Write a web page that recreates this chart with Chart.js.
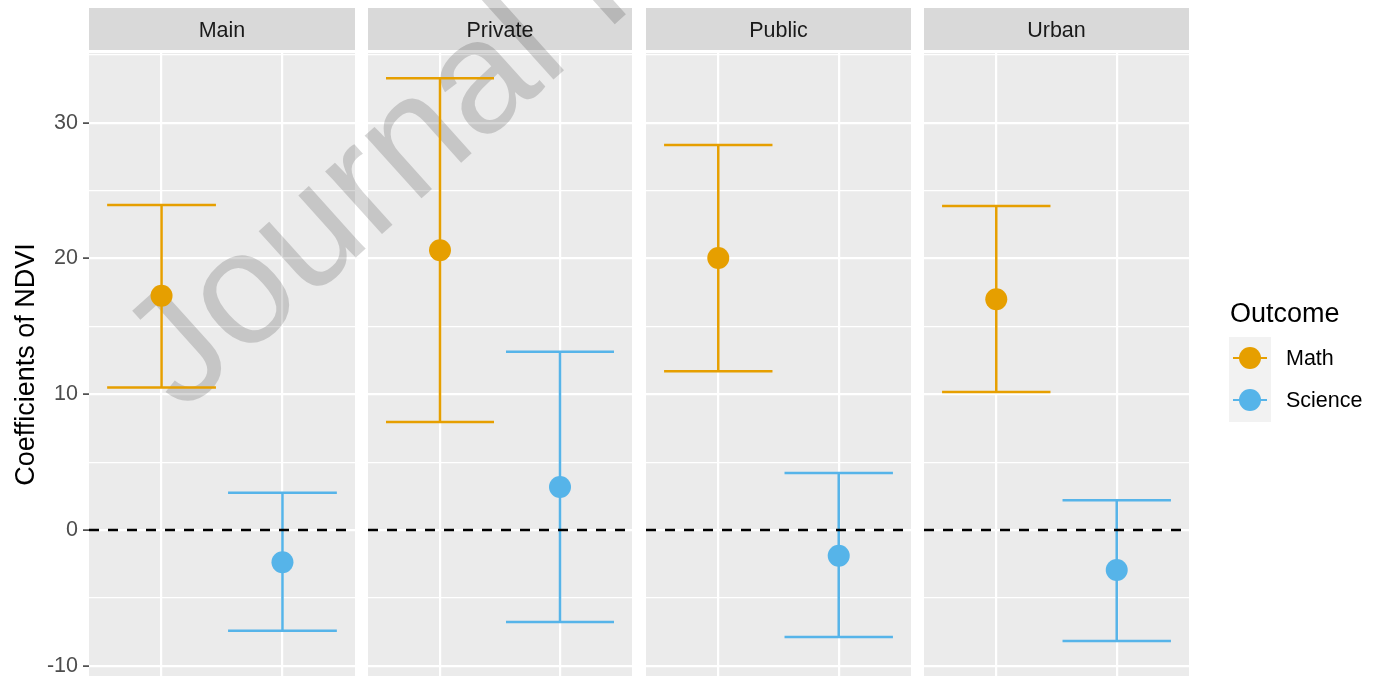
<!DOCTYPE html>
<html>
<head>
<meta charset="utf-8">
<script src="https://cdn.jsdelivr.net/npm/chart.js@4.4.0/dist/chart.umd.min.js"></script>
<style>
  body { margin: 0; background: #fff; width: 1379px; height: 676px; overflow: hidden; position: relative;
         font-family: "Liberation Sans", Arial, sans-serif; }
  canvas { position: absolute; top: 53px; z-index: 2; }
  .strip { position: absolute; top: 8px; height: 39px; padding-top: 3px; line-height: 39px; background: #d9d9d9;
           color: #1a1a1a; font-size: 21.5px; text-align: center; z-index: 0; }
  .legend-title { position: absolute; left: 1230px; top: 300px; font-size: 27px; line-height: 27px; color: #000; }
  .legend-keys { position: absolute; left: 1229px; top: 337px; width: 42px; height: 85px; background: #f2f2f2; }
  .key-line { position: absolute; left: 4px; width: 34px; height: 2.5px; }
  .key-dot { position: absolute; left: 10px; width: 22px; height: 22px; border-radius: 50%; }
  .legend-label { position: absolute; left: 1286px; font-size: 21.5px; line-height: 21.5px; color: #000; }
  .watermark { position: absolute; left: 182px; top: 279px; font-size: 160px; line-height: 160px; white-space: nowrap;
               color: rgb(215, 215, 215); mix-blend-mode: multiply; transform-origin: 0 135px;
               transform: rotate(-42deg); pointer-events: none; z-index: 1; }
</style>
</head>
<body>
<div id="strips"></div>
<div class="watermark">Journal Pre-proof</div>
<div id="panels"></div>

<div class="legend-title">Outcome</div>
<div class="legend-keys" id="keys"></div>
<div class="legend-label" style="top:348px">Math</div>
<div class="legend-label" style="top:390px">Science</div>

<script>
// facets and values
const facets = ["Main", "Private", "Public", "Urban"];
const outcomes = ["Math", "Science"];

const mathEst  = [17.26, 20.6, 20.03, 17.0];
const mathLow  = [10.5, 7.95, 11.7, 10.16];
const mathHigh = [23.94, 33.27, 28.36, 23.86];

const sciEst  = [-2.38, 3.17, -1.9, -2.95];
const sciLow  = [-7.41, -6.78, -7.88, -8.18];
const sciHigh = [2.75, 13.13, 4.2, 2.2];

const yTicks = [-10, 0, 10, 20, 30];

const colors = ["#E69F00", "#56B4E9"];

// layout of the facet panels
const panelLeft = [89, 368, 646, 924];
const panelWidth = [266, 264, 265, 265];
const panelTop = 53;
const axisWidth = 89;
const capHalf = 0.45;

// same geometry as the .watermark div (baseline origin)
const wm = { text: "Journal Pre-proof", x: 182, y: 414, angle: -42, size: 160 };

Chart.defaults.font.family = '"Liberation Sans", Arial, sans-serif';

const panelBg = {
  id: "panelBg",
  beforeDraw(chart) {
    const { ctx, chartArea: a } = chart;
    ctx.save();
    ctx.fillStyle = "#ebebeb";
    ctx.fillRect(a.left, a.top, a.width, a.height);
    ctx.restore();
  },
};

// watermark sits above the grid but under the marks
const watermark = {
  id: "watermark",
  beforeDatasetsDraw(chart) {
    const { ctx, chartArea: a } = chart;
    const ox = Number(chart.canvas.dataset.left);
    ctx.save();
    ctx.beginPath();
    ctx.rect(a.left, a.top, a.width, a.height);
    ctx.clip();
    ctx.globalCompositeOperation = "multiply";
    ctx.fillStyle = "rgb(215,215,215)";
    ctx.font = wm.size + 'px "Liberation Sans", Arial, sans-serif';
    ctx.textBaseline = "alphabetic";
    ctx.translate(wm.x - ox, wm.y - panelTop);
    ctx.rotate((wm.angle * Math.PI) / 180);
    ctx.fillText(wm.text, 0, 0);
    ctx.restore();
  },
};

const errorBars = {
  id: "errorBars",
  beforeDatasetsDraw(chart) {
    const { ctx, scales: { x, y } } = chart;
    chart.data.datasets.forEach((ds) => {
      if (!ds.errLow) return;
      ds.data.forEach((p, j) => {
        const cx = x.getPixelForValue(p.x);
        const x0 = x.getPixelForValue(p.x - capHalf);
        const x1 = x.getPixelForValue(p.x + capHalf);
        const yl = y.getPixelForValue(ds.errLow[j]);
        const yh = y.getPixelForValue(ds.errHigh[j]);
        ctx.save();
        ctx.strokeStyle = ds.backgroundColor;
        ctx.lineWidth = 2.5;
        ctx.beginPath();
        ctx.moveTo(cx, yl); ctx.lineTo(cx, yh);
        ctx.moveTo(x0, yl); ctx.lineTo(x1, yl);
        ctx.moveTo(x0, yh); ctx.lineTo(x1, yh);
        ctx.stroke();
        ctx.restore();
      });
    });
  },
};

const isMajor = (v) => yTicks.includes(v);
const gridValues = yTicks.flatMap((v) => [v, v + 5]);

const makePanel = (i) => {
  const first = i === 0;
  const strip = document.createElement("div");
  strip.className = "strip";
  strip.style.left = panelLeft[i] + "px";
  strip.style.width = panelWidth[i] + "px";
  strip.textContent = facets[i];
  document.getElementById("strips").appendChild(strip);

  const canvas = document.createElement("canvas");
  const left = first ? 0 : panelLeft[i];
  canvas.width = panelWidth[i] + (first ? axisWidth : 0);
  canvas.height = 676 - panelTop;
  canvas.style.left = left + "px";
  canvas.dataset.left = left;
  document.getElementById("panels").appendChild(canvas);

  new Chart(canvas, {
    type: "scatter",
    data: {
      datasets: [
        {
          label: outcomes[0],
          data: [{ x: 1, y: mathEst[i] }],
          errLow: [mathLow[i]],
          errHigh: [mathHigh[i]],
          backgroundColor: colors[0],
          pointRadius: 11,
          pointHoverRadius: 11,
          borderWidth: 0,
          order: 0,
        },
        {
          label: outcomes[1],
          data: [{ x: 2, y: sciEst[i] }],
          errLow: [sciLow[i]],
          errHigh: [sciHigh[i]],
          backgroundColor: colors[1],
          pointRadius: 11,
          pointHoverRadius: 11,
          borderWidth: 0,
          order: 0,
        },
        {
          label: "zero",
          data: [{ x: 0.4, y: 0 }, { x: 2.6, y: 0 }],
          showLine: true,
          borderColor: "#000",
          borderWidth: 2.4,
          borderDash: [10, 9],
          pointRadius: 0,
          order: 1,
        },
      ],
    },
    options: {
      responsive: false,
      animation: false,
      devicePixelRatio: 1,
      events: [],
      layout: { padding: 0, autoPadding: false },
      plugins: { legend: { display: false }, tooltip: { enabled: false } },
      scales: {
        x: {
          type: "linear",
          min: 0.4,
          max: 2.6,
          afterBuildTicks: (s) => { s.ticks = [{ value: 1 }, { value: 2 }]; },
          afterFit: (s) => { s.height = 0; s.paddingLeft = 0; s.paddingRight = 0; },
          ticks: { display: false },
          grid: { color: "#fff", lineWidth: 2.2, drawTicks: false },
          border: { display: false },
        },
        y: {
          min: -10.75,
          max: 35.13,
          afterBuildTicks: (s) => { s.ticks = gridValues.map((v) => ({ value: v })); },
          afterFit: (s) => {
            s.width = first ? axisWidth : 0;
            s.paddingTop = 0;
            s.paddingBottom = 0;
          },
          ticks: {
            display: first,
            autoSkip: false,
            color: "#4d4d4d",
            font: { size: 21.5 },
            padding: 5,
            callback: (v) => (isMajor(v) ? String(v) : ""),
          },
          grid: {
            color: "#fff",
            lineWidth: (c) => (isMajor(c.tick.value) ? 2.2 : 1.2),
            drawTicks: first,
            tickLength: 6,
            tickWidth: 1.5,
            tickColor: (c) => (isMajor(c.tick.value) ? "#333" : "rgba(0,0,0,0)"),
          },
          border: { display: false },
          title: {
            display: first,
            text: "Coefficients of NDVI",
            color: "#000",
            font: { size: 27 },
            padding: { top: 10, bottom: 0 },
          },
        },
      },
    },
    plugins: [panelBg, watermark, errorBars],
  });
};

facets.forEach((f, i) => makePanel(i));

// legend keys
const keys = document.getElementById("keys");
outcomes.forEach((o, k) => {
  const cy = 21 + k * 42;
  const line = document.createElement("div");
  line.className = "key-line";
  line.style.top = cy - 1.25 + "px";
  line.style.background = colors[k];
  const dot = document.createElement("div");
  dot.className = "key-dot";
  dot.style.top = cy - 11 + "px";
  dot.style.background = colors[k];
  keys.appendChild(line);
  keys.appendChild(dot);
});
</script>
</body>
</html>
